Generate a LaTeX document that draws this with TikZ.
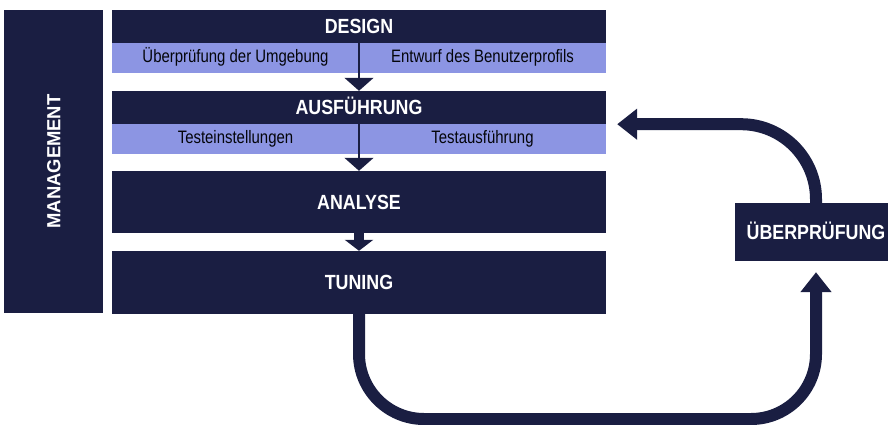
\documentclass[tikz,border=0pt]{standalone}
\usepackage{fontspec}
\newfontfamily\hepdam[FakeStretch=0.87]{Liberation Sans}
\newfontfamily\hepnhat[FakeStretch=0.83]{Liberation Sans}
\newfontfamily\hepvua[FakeStretch=0.97]{Liberation Sans}
\usetikzlibrary{arrows.meta}
\definecolor{xanhdam}{HTML}{1A1E42}
\definecolor{tim}{HTML}{8C95E3}
\tikzset{
	khoi/.style={fill=xanhdam,text=white,inner sep=0pt,text height=14.7pt,text depth=0pt,
		font=\hepdam\bfseries\fontsize{20.5}{24}\selectfont},
	dai/.style={fill=tim,text=black!85!xanhdam,inner sep=0pt,minimum width=247pt,minimum height=30pt,
		text height=13pt,text depth=3.5pt,font=\hepnhat\fontsize{18}{21}\selectfont},
	muiten/.style={draw=xanhdam,line width=12pt,rounded corners=65pt,-{Triangle[width=30pt,length=20pt]}}
}
\begin{document}
\begin{tikzpicture}[x=1pt,y=1pt]
		\useasboundingbox (0,0) rectangle (888,-425);
		%Vẽ các khối
		\node[khoi,rotate=90,minimum width=303pt,minimum height=99pt,text height=13.6pt,
			font=\hepvua\bfseries\fontsize{19}{22}\selectfont] (quanly) at (53.5,-161.5) {MANAGEMENT};
		\node[khoi,minimum width=494pt,minimum height=33pt] (design) at (359,-26.5) {DESIGN};
		\node[dai] (moitruong) at (235.5,-58) {Überprüfung der Umgebung};
		\node[dai] (hoso) at (482.5,-58) {Entwurf des Benutzerprofils};
		\node[khoi,minimum width=494pt,minimum height=33pt] (thuchien) at (359,-107.5) {AUSFÜHRUNG};
		\node[dai] (caidat) at (235.5,-139) {Testeinstellungen};
		\node[dai] (chay) at (482.5,-139) {Testausführung};
		\node[khoi,minimum width=494pt,minimum height=62pt] (analyse) at (359,-202) {ANALYSE};
		\node[khoi,minimum width=494pt,minimum height=63pt] (tuning) at (359,-282.5) {TUNING};
		\node[khoi,minimum width=162pt,minimum height=58pt] (kiemtra) at (816,-232) {ÜBERPRÜFUNG};
		%Vẽ mũi tên nhỏ
		\draw[xanhdam,line width=1.5pt,-{Triangle[width=29pt,length=13pt]}] (design.south)--(thuchien.north);
		\draw[xanhdam,line width=1.5pt,-{Triangle[width=29pt,length=13pt]}] (thuchien.south)--(analyse.north);
		\draw[xanhdam,line width=10pt,-{Triangle[width=28pt,length=11pt]}] (analyse.south)--(tuning.north);
		%Vẽ vòng lặp
		\coordinate (day) at (816,-419);
		\draw[muiten] (tuning.south) |- (day) -- ([yshift=-11pt]kiemtra.south);
		\draw[muiten,rounded corners=75pt] (kiemtra.north) |- ([xshift=11pt]thuchien.south east);
	\end{tikzpicture}
\end{document}
